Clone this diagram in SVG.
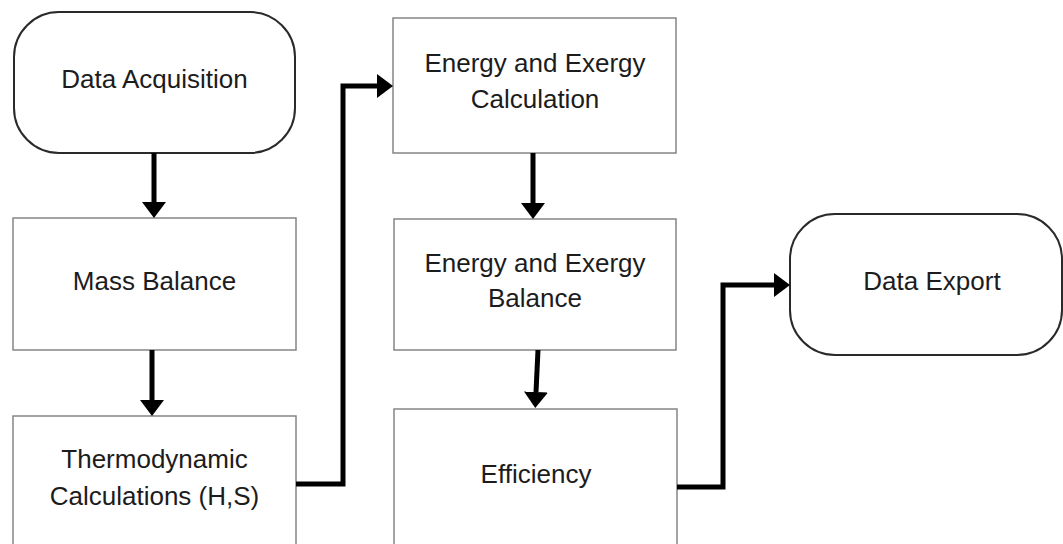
<svg xmlns="http://www.w3.org/2000/svg" width="1063" height="544" viewBox="0 0 1063 544">
<style>
.box{fill:#fff;stroke:#858585;stroke-width:1.5}
.term{fill:#fff;stroke:#2a2a2a;stroke-width:2}
.lbl{font-family:"Liberation Sans",Arial,sans-serif;font-size:26px;fill:#1c1c1c;text-anchor:middle}
.conn{fill:none;stroke:#000;stroke-width:5;stroke-linejoin:miter}
</style>
<defs>
<marker id="ah" viewBox="0 0 16 24" refX="0" refY="12" markerWidth="16" markerHeight="24" markerUnits="userSpaceOnUse" orient="auto">
<path d="M0,0 L16,12 L0,24 z" fill="#000"/>
</marker>
</defs>
<rect width="1063" height="544" fill="#fff"/>
<g id="data-acquisition">
<rect class="term" x="14" y="12" width="281" height="141" rx="45" ry="45"/>
<text class="lbl" x="154.5" y="88">Data Acquisition</text>
</g>
<g id="mass-balance">
<rect class="box" x="13" y="218" width="283" height="132"/>
<text class="lbl" x="154.5" y="290">Mass Balance</text>
</g>
<g id="thermodynamic">
<rect class="box" x="13" y="416" width="283" height="140"/>
<text class="lbl" x="154.5" y="468">Thermodynamic</text>
<text class="lbl" x="154.5" y="505">Calculations (H,S)</text>
</g>
<g id="energy-calc">
<rect class="box" x="393" y="18" width="283" height="135"/>
<text class="lbl" x="535" y="72">Energy and Exergy</text>
<text class="lbl" x="535" y="108">Calculation</text>
</g>
<g id="energy-balance">
<rect class="box" x="394" y="219" width="282" height="131"/>
<text class="lbl" x="535" y="272">Energy and Exergy</text>
<text class="lbl" x="535" y="307">Balance</text>
</g>
<g id="efficiency">
<rect class="box" x="394" y="409" width="283" height="150"/>
<text class="lbl" x="536" y="483">Efficiency</text>
</g>
<g id="data-export">
<rect class="term" x="790" y="214" width="272" height="141" rx="45" ry="45"/>
<text class="lbl" x="932" y="290">Data Export</text>
</g>
<g id="connectors">
<path class="conn" d="M154,153 V202" marker-end="url(#ah)"/>
<path class="conn" d="M152,350 V400" marker-end="url(#ah)"/>
<path class="conn" d="M533,153 V203" marker-end="url(#ah)"/>
<path class="conn" d="M538,350 L536,392" marker-end="url(#ah)"/>
<path class="conn" d="M296,484 H343 V86 H377" marker-end="url(#ah)"/>
<path class="conn" d="M677,487 H723 V285 H774" marker-end="url(#ah)"/>
</g>
</svg>
